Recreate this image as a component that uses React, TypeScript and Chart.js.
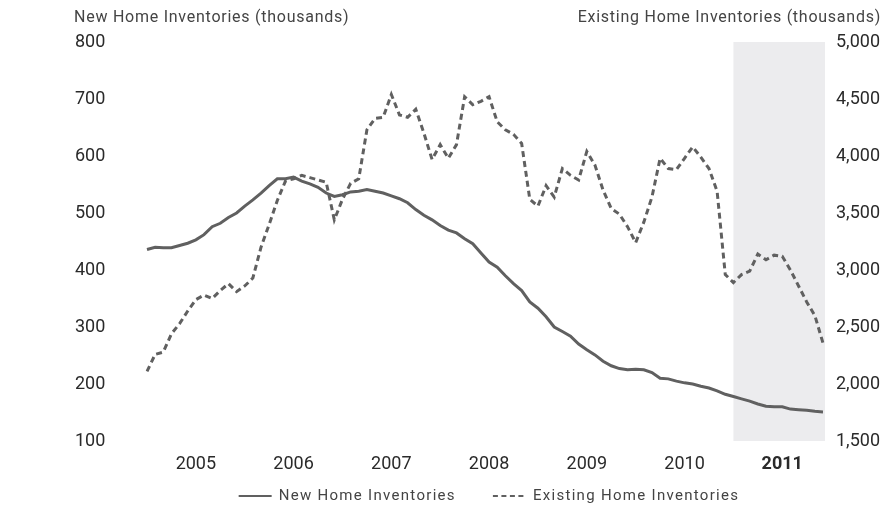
import React, { useEffect, useRef } from "react";
import { Chart, registerables } from "chart.js";

Chart.register(...registerables);

const YEARS = ["2005", "2006", "2007", "2008", "2009", "2010", "2011"];
const MONTHS = ["Jan", "Feb", "Mar", "Apr", "May", "Jun", "Jul", "Aug", "Sep", "Oct", "Nov", "Dec"];
const MONTH_LABELS = YEARS.flatMap((y) => MONTHS.map((m) => `${m} ${y}`));
const SHADE_START = "Jan 2011";
const HIGHLIGHT_YEAR = "2011";

const NEW_HOME_TITLE = "New Home Inventories (thousands)";
const EXISTING_HOME_TITLE = "Existing Home Inventories (thousands)";
const NEW_HOME_LABEL = "New Home Inventories";
const EXISTING_HOME_LABEL = "Existing Home Inventories";

// thousands, monthly Jan 2005 - Dec 2011
const newHome = [
  436, 440, 439, 439, 443, 447, 453, 462, 476, 482, 492, 500,
  512, 523, 535, 548, 560, 560, 563, 556, 551, 545, 535, 529,
  532, 537, 538, 541, 538, 535, 530, 525, 518, 506, 496, 488,
  478, 470, 465, 455, 446, 430, 414, 405, 390, 376, 364, 344,
  333, 318, 300, 292, 284, 270, 260, 251, 240, 232, 227, 225,
  226, 225, 220, 210, 209, 205, 202, 200, 196, 193, 188, 182,
  178, 174, 170, 165, 161, 160, 160, 156, 155, 154, 152, 151,
];

const existingHome = [
  2110, 2260, 2280, 2440, 2530, 2640, 2740, 2780, 2750, 2820, 2880, 2810,
  2860, 2930, 3200, 3400, 3610, 3780, 3800, 3830, 3810, 3790, 3770, 3440,
  3620, 3760, 3800, 4230, 4330, 4340, 4540, 4360, 4340, 4410, 4200, 3970,
  4100, 3980, 4100, 4520, 4450, 4480, 4520, 4300, 4230, 4190, 4110, 3620,
  3560, 3740, 3640, 3890, 3830, 3790, 4040, 3920, 3700, 3540, 3490, 3380,
  3240, 3420, 3640, 3980, 3890, 3880, 3980, 4080, 3990, 3890, 3690, 2960,
  2890, 2960, 2990, 3140, 3090, 3130, 3120, 3000, 2860, 2720, 2600, 2360,
];

const LEFT_MIN = 100;
const LEFT_MAX = 800;
const LEFT_STEP = 100;
const RIGHT_MIN = 1500;
const RIGHT_MAX = 5000;
const RIGHT_STEP = 500;

const FONT = "Roboto, 'DejaVu Sans', sans-serif";
const LINE_COLOR = "#606060";
const TEXT_COLOR = "#2a2a2a";
const TITLE_COLOR = "#444444";
const SHADE_COLOR = "#ececee";
const DASH = [6, 4];

const overlayPlugin = {
  id: "overlay",
  beforeDatasetsDraw(chart: any) {
    const { ctx, chartArea, scales } = chart;
    const x = scales.x;
    const x0 = x.getPixelForValue(MONTH_LABELS.indexOf(SHADE_START));
    ctx.save();
    ctx.fillStyle = SHADE_COLOR;
    ctx.fillRect(x0, chartArea.top, chartArea.right + 2 - x0, chartArea.bottom - chartArea.top);
    ctx.restore();
  },
  afterDraw(chart: any) {
    const { ctx, chartArea } = chart;
    ctx.save();
    // axis titles
    ctx.font = `16px ${FONT}`;
    (ctx as any).letterSpacing = "0.75px";
    ctx.fillStyle = TITLE_COLOR;
    ctx.textBaseline = "middle";
    ctx.textAlign = "left";
    ctx.fillText(NEW_HOME_TITLE, 74, 18);
    ctx.textAlign = "right";
    ctx.fillText(EXISTING_HOME_TITLE, 881, 18);

    // legend
    const ds = chart.data.datasets;
    ctx.font = `15px ${FONT}`;
    (ctx as any).letterSpacing = "1.3px";
    const lineLen = 33;
    const gapText = 7;
    const gapItems = 37;
    const w1 = lineLen + gapText + ctx.measureText(ds[0].label).width;
    const w2 = lineLen + gapText + ctx.measureText(ds[1].label).width;
    const total = w1 + gapItems + w2;
    const cx = (chartArea.left + chartArea.right) / 2 + 4;
    let lx = cx - total / 2;
    const ly = 496;
    ds.forEach((d: any, i: number) => {
      ctx.beginPath();
      ctx.strokeStyle = d.borderColor;
      ctx.lineWidth = 2;
      ctx.setLineDash(i === 1 ? [5, 3.5] : []);
      ctx.moveTo(lx, ly);
      ctx.lineTo(lx + lineLen, ly);
      ctx.stroke();
      ctx.setLineDash([]);
      ctx.fillStyle = TITLE_COLOR;
      ctx.textAlign = "left";
      ctx.fillText(d.label, lx + lineLen + gapText, ly);
      lx += (i === 0 ? w1 : w2) + gapItems;
    });
    ctx.restore();
  },
};

export default function App() {
  const canvasRef = useRef<HTMLCanvasElement | null>(null);

  useEffect(() => {
    document.body.style.margin = "0";
    const canvas = canvasRef.current;
    if (!canvas) return;
    const chart = new Chart(canvas, {
      type: "line",
      data: {
        labels: MONTH_LABELS,
        datasets: [
          {
            label: NEW_HOME_LABEL,
            data: newHome,
            yAxisID: "y",
            borderColor: LINE_COLOR,
            borderWidth: 3,
            pointRadius: 0,
            tension: 0,
            fill: false,
          },
          {
            label: EXISTING_HOME_LABEL,
            data: existingHome,
            yAxisID: "y1",
            borderColor: LINE_COLOR,
            borderWidth: 3,
            borderDash: DASH,
            pointRadius: 0,
            tension: 0,
            fill: false,
          },
        ],
      },
      options: {
        responsive: false,
        animation: false,
        devicePixelRatio: 1,
        layout: { padding: { left: 75, right: 3, top: 42, bottom: 0 } },
        plugins: {
          legend: { display: false },
          tooltip: { enabled: false },
        },
        scales: {
          x: {
            type: "category",
            grid: { display: false, drawTicks: false },
            border: { display: false },
            afterFit: (s: any) => {
              s.height = 65;
            },
            ticks: {
              autoSkip: false,
              maxRotation: 0,
              minRotation: 0,
              padding: 13,
              color: TEXT_COLOR,
              font: (c: any) => {
                const lab = MONTH_LABELS[c.index] || "";
                return {
                  family: FONT,
                  size: 18,
                  weight: lab.endsWith(HIGHLIGHT_YEAR) ? "bold" : "normal",
                };
              },
              callback: (v: any) => {
                const lab = MONTH_LABELS[v as number];
                return lab && lab.startsWith("Jul") ? lab.slice(4) : "";
              },
            },
          },
          y: {
            position: "left",
            min: LEFT_MIN,
            max: LEFT_MAX,
            grid: { display: false, drawTicks: false },
            border: { display: false },
            afterFit: (s: any) => {
              s.width = 72;
            },
            ticks: {
              stepSize: LEFT_STEP,
              crossAlign: "far",
              color: TEXT_COLOR,
              font: { family: FONT, size: 18 },
            },
          },
          y1: {
            position: "right",
            min: RIGHT_MIN,
            max: RIGHT_MAX,
            grid: { display: false, drawTicks: false },
            border: { display: false },
            afterFit: (s: any) => {
              s.width = 57;
            },
            ticks: {
              stepSize: RIGHT_STEP,
              crossAlign: "far",
              color: TEXT_COLOR,
              font: { family: FONT, size: 18 },
              callback: (v: any) => Number(v).toLocaleString("en-US"),
            },
          },
        },
      },
      plugins: [overlayPlugin],
    });
    return () => chart.destroy();
  }, []);

  return (
    <div style={{ width: 883, height: 506 }}>
      <canvas ref={canvasRef} width={883} height={506} />
    </div>
  );
}
